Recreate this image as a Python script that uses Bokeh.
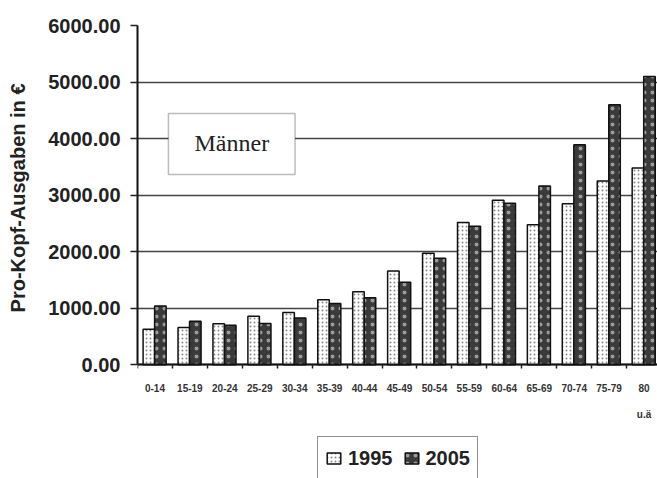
from bokeh.plotting import figure
from bokeh.models import (Range1d, FixedTicker, Legend, LegendItem, BoxAnnotation,
                          Label, ColumnDataSource, LinearAxis, Title)
from bokeh.embed import file_html
from bokeh.resources import INLINE

# Age groups and per-capita spending for men (EUR)
age_groups = ["0-14", "15-19", "20-24", "25-29", "30-34", "35-39", "40-44", "45-49",
              "50-54", "55-59", "60-64", "65-69", "70-74", "75-79", "80\n\nu.ä"]
spend_1995 = [630, 660, 725, 860, 925, 1150, 1290, 1660, 1975, 2515, 2910, 2475, 2850, 3250, 3480]
spend_2005 = [1040, 770, 700, 730, 830, 1085, 1185, 1460, 1885, 2450, 2855, 3160, 3890, 4600, 5100]
y_ticks = [0, 1000, 2000, 3000, 4000, 5000, 6000]

n = len(age_groups)
idx = list(range(n))
src = ColumnDataSource(dict(
    x95=[i - 0.175 for i in idx],
    x05=[i + 0.155 for i in idx],
    v95=spend_1995,
    v05=spend_2005,
))

# the frame runs down to the page bottom so the legend can sit under the axis
p = figure(width=657, height=478, output_backend="svg", toolbar_location=None,
           x_range=Range1d(-0.5, 14.385), y_range=Range1d(-2010, 6000),
           x_axis_location=None,
           min_border_left=137, min_border_right=0, min_border_top=25,
           min_border_bottom=0)
p.outline_line_color = None
p.background_fill_color = "white"

r95 = p.vbar(x="x95", top="v95", width=0.33, source=src, fill_color="white",
             line_color="#111", line_width=1.5, hatch_pattern="dot",
             hatch_color="#8a8a8a", hatch_scale=4, hatch_weight=1)
r05 = p.vbar(x="x05", top="v05", width=0.33, source=src, fill_color="#3a3a3a",
             line_color="#111", line_width=1.5, hatch_pattern="dot",
             hatch_color="#9a9a9a", hatch_scale=8, hatch_weight=1)

# y axis
yax = p.yaxis[0]
yax.bounds = (0, 6000)
yax.ticker = FixedTicker(ticks=y_ticks)
yax.major_label_overrides = {t: f"{t:.2f}" for t in y_ticks}
yax.major_label_text_font = "Liberation Sans"
yax.major_label_text_font_style = "bold"
yax.major_label_text_font_size = "20px"
yax.major_label_text_color = "#222"
yax.major_tick_out = 7
yax.major_tick_in = 0
yax.minor_tick_out = 0
yax.minor_tick_in = 0
yax.major_tick_line_color = "#222"
yax.major_tick_line_width = 1.5
yax.axis_line_color = "#111"
yax.axis_line_width = 2
yax.major_label_standoff = 10
# blank axis label only reserves a little room between tick labels and title
yax.axis_label = " "
yax.axis_label_text_font_size = "10px"
yax.axis_label_standoff = 0

# y axis title, anchored near the top of the value scale
p.add_layout(Title(text="Pro-Kopf-Ausgaben in €", align="right", offset=58,
                   text_font="Liberation Sans", text_font_style="bold",
                   text_font_size="20px", text_color="#222",
                   standoff=6), "left")

# x axis pinned at zero: labels at group centres, small ticks at group boundaries
xax = LinearAxis(fixed_location=0)
xax.ticker = FixedTicker(ticks=idx, minor_ticks=[i - 0.5 for i in idx])
xax.major_label_overrides = {i: lab for i, lab in enumerate(age_groups)}
xax.major_label_text_font = "Liberation Sans"
xax.major_label_text_font_style = "bold"
xax.major_label_text_font_size = "10px"
xax.major_label_text_color = "#333"
xax.major_tick_out = 0
xax.major_tick_in = 0
xax.minor_tick_out = 4
xax.minor_tick_in = 0
xax.minor_tick_line_color = "#222"
xax.minor_tick_line_width = 1.5
xax.axis_line_color = "#111"
xax.axis_line_width = 2
xax.major_label_standoff = 14
p.add_layout(xax, "below")

p.xgrid.visible = False
p.ygrid.ticker = FixedTicker(ticks=y_ticks)
p.ygrid.grid_line_color = "#444"
p.ygrid.grid_line_width = 1.5

# "Männer" tag box
p.add_layout(BoxAnnotation(left=0.385, right=4.01, bottom=3365, top=4445,
                           fill_color="white", fill_alpha=1.0,
                           line_color="#222", line_width=1.5))
p.add_layout(Label(x=2.2, y=3920, text="Männer", text_font="Liberation Serif",
                   text_font_size="24px", text_color="#222",
                   text_align="center", text_baseline="middle"))

legend = Legend(items=[LegendItem(label="1995", renderers=[r95]),
                       LegendItem(label="2005", renderers=[r05])],
                orientation="horizontal", location=(180, -2),
                label_text_font="Liberation Sans", label_text_font_style="bold",
                label_text_font_size="20px", label_text_color="#222",
                glyph_width=17, glyph_height=14, label_height=28,
                label_standoff=6, spacing=10,
                padding=7, margin=0, border_line_color="#222",
                border_line_width=1.5, background_fill_alpha=1.0)
p.add_layout(legend, "center")

open("out.html", "w").write(file_html(p, INLINE))
